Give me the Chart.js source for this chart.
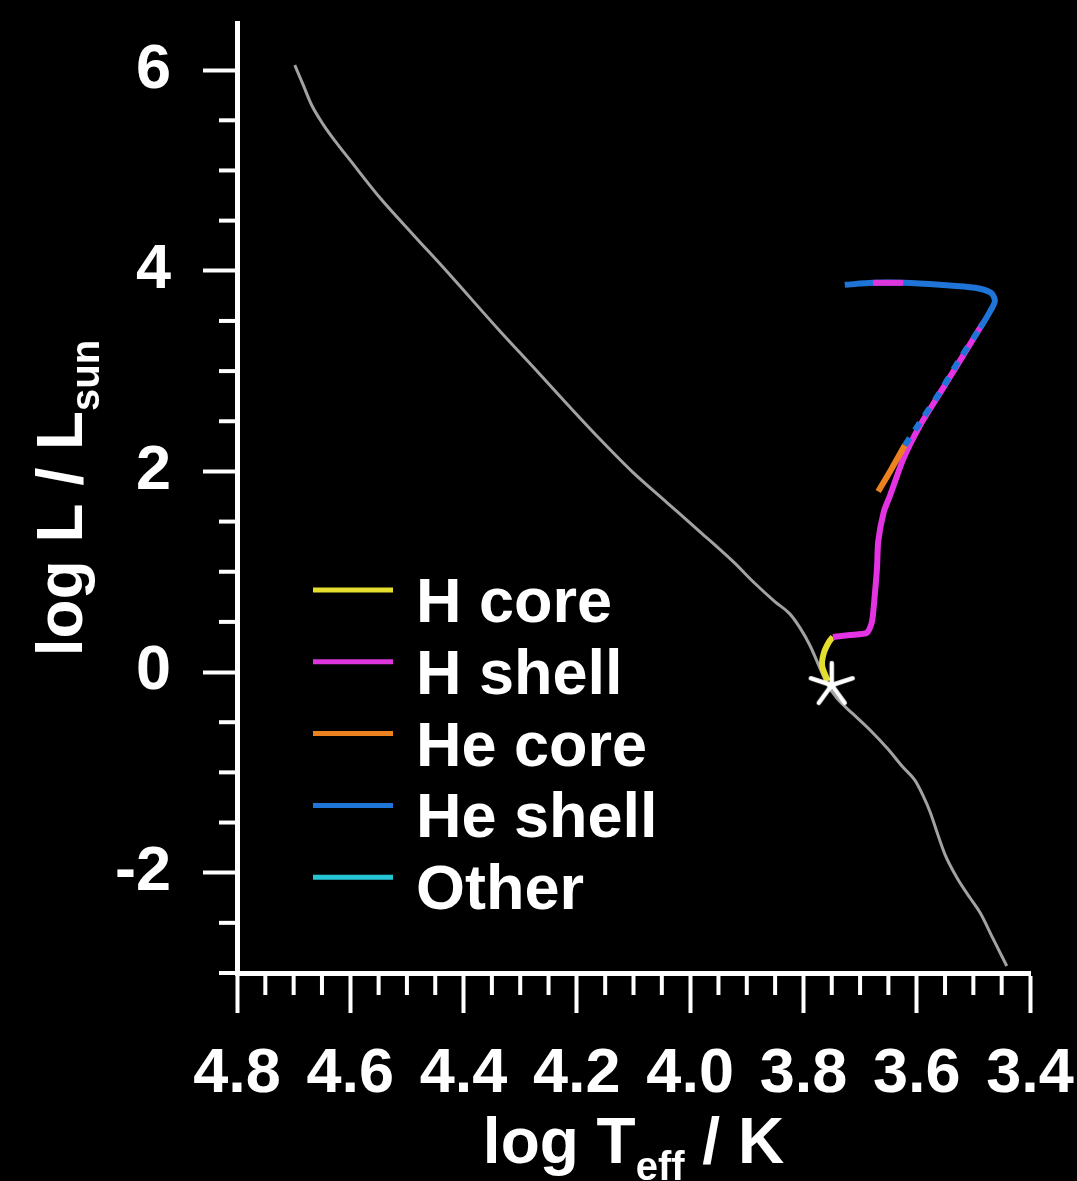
<!DOCTYPE html>
<html><head><meta charset="utf-8">
<script src="https://cdn.jsdelivr.net/npm/chart.js@4.4.0/dist/chart.umd.min.js"></script>
<style>html,body{margin:0;padding:0;background:#000;overflow:hidden}#wrap{width:1077px;height:1181px}</style>
</head><body><div id="wrap"><canvas id="c" width="1077" height="1181"></canvas></div>
<script>
const FONT = '"Liberation Sans", Arial, Helvetica, sans-serif';

// ---- axis ticks ----
const xTicks = [4.8, 4.6, 4.4, 4.2, 4.0, 3.8, 3.6, 3.4];
const yTicks = [-2, 0, 2, 4, 6];
const xRange = [3.4, 4.8];
const yRange = [-3, 6.47];
const xMinorStep = 0.05;
const yMinorStep = 0.5;

// ---- legend ----
const legendLabels = ['H core', 'H shell', 'He core', 'He shell', 'Other'];
const legendColors = ['#e4de2e', '#dc36dc', '#ec821f', '#1f74d8', '#27c6d6'];

// ---- grey track (main sequence line) ----
const trackX = [4.698,4.683,4.668,4.648,4.625,4.600,4.548,4.489,4.429,4.336,4.277,4.217,4.159,4.101,4.041,3.983,3.924,3.885,3.850,3.824,3.806,3.788,3.774,3.758,3.741,3.712,3.682,3.652,3.624,3.603,3.589,3.576,3.564,3.550,3.529,3.506,3.488,3.465,3.441];
const trackY = [6.05,5.85,5.65,5.46,5.28,5.10,4.73,4.36,3.99,3.40,3.04,2.67,2.32,1.99,1.69,1.40,1.10,0.88,0.70,0.58,0.44,0.26,0.08,-0.12,-0.26,-0.42,-0.58,-0.76,-0.95,-1.08,-1.23,-1.40,-1.60,-1.82,-2.05,-2.25,-2.40,-2.66,-2.93];

// ---- evolutionary track segments ----
const hCoreX = [3.757,3.767,3.764,3.755,3.748];
const hCoreY = [-0.09,0.06,0.19,0.30,0.35];

const hShellX = [3.748,3.718,3.688,3.679,3.674,3.670,3.668,3.658,3.647,3.624,3.594,3.559,3.523,3.483];
const hShellY = [0.35,0.37,0.39,0.50,0.77,1.05,1.30,1.60,1.76,2.12,2.46,2.78,3.11,3.48];

const hShell2X = [3.624,3.677];
const hShell2Y = [3.88,3.88];

const heCoreX = [3.668,3.644,3.621];
const heCoreY = [1.80,2.03,2.26];

const heShellX = [3.621,3.594,3.559,3.524,3.488,3.471,3.462,3.469,3.497,3.559,3.624,3.677,3.727];
const heShellY = [2.26,2.49,2.79,3.12,3.43,3.59,3.70,3.78,3.83,3.86,3.88,3.88,3.86];

const otherX = [];
const otherY = [];

const sunX = [3.750];
const sunY = [-0.13];

function pts(xs, ys) { return xs.map((x, i) => ({ x: x, y: ys[i] })); }

function makeStar() {
  const c = document.createElement('canvas');
  c.width = 52; c.height = 52;
  const g = c.getContext('2d');
  g.strokeStyle = '#ffffff'; g.lineWidth = 4.5; g.lineCap = 'round';
  for (let i = 0; i < 5; i++) {
    const a = -Math.PI / 2 + i * 2 * Math.PI / 5;
    g.beginPath(); g.moveTo(26, 26);
    g.lineTo(26 + 22 * Math.cos(a), 26 + 22 * Math.sin(a)); g.stroke();
  }
  return c;
}

const lineBase = { showLine: true, pointRadius: 0, pointHoverRadius: 0, fill: false, tension: 0.3 };

const decor = {
  id: 'decor',
  afterDraw(chart) {
    const ctx = chart.ctx;
    const xs = chart.scales.x, ys = chart.scales.y;
    const ca = chart.chartArea;
    ctx.save();
    ctx.strokeStyle = '#ffffff';
    ctx.lineWidth = 4;
    for (let v = xRange[0]; v <= xRange[1] + 1e-9; v += xMinorStep) {
      const r = Math.round(v * 100) / 100;
      if (xTicks.some(t => Math.abs(t - r) < 1e-6)) continue;
      const p = xs.getPixelForValue(r);
      ctx.beginPath(); ctx.moveTo(p, ca.bottom); ctx.lineTo(p, ca.bottom + 22); ctx.stroke();
    }
    for (let v = yRange[0]; v <= yRange[1] + 1e-9; v += yMinorStep) {
      if (yTicks.some(t => Math.abs(t - v) < 1e-6)) continue;
      const p = ys.getPixelForValue(v);
      ctx.beginPath(); ctx.moveTo(ca.left, p); ctx.lineTo(ca.left - 18, p); ctx.stroke();
    }
    ctx.lineWidth = 5;
    ctx.lineCap = 'butt';
    ctx.font = 'bold 63px ' + FONT;
    ctx.fillStyle = '#ffffff';
    ctx.textAlign = 'left';
    ctx.textBaseline = 'alphabetic';
    legendLabels.forEach((lab, i) => {
      const yl = 590 + i * 71.8;
      ctx.strokeStyle = legendColors[i];
      ctx.beginPath(); ctx.moveTo(313, yl); ctx.lineTo(393, yl); ctx.stroke();
      ctx.fillText(lab, 416, yl + 32);
    });
    const big = 'bold 64px ' + FONT, small = 'bold 40px ' + FONT;
    drawParts(ctx, [['log T', big, 0], ['eff', small, 17], [' / K', big, 0]], (ca.left + ca.right) / 2, 1163);
    ctx.save();
    ctx.translate(82, (ca.top + ca.bottom) / 2);
    ctx.rotate(-Math.PI / 2);
    drawParts(ctx, [['log L / L', big, 0], ['sun', small, 17]], 0, 0);
    ctx.restore();
    ctx.restore();
  }
};

function drawParts(ctx, parts, cx, by) {
  let w = 0;
  parts.forEach(p => { ctx.font = p[1]; w += ctx.measureText(p[0]).width; });
  let x = cx - w / 2;
  ctx.textAlign = 'left'; ctx.textBaseline = 'alphabetic'; ctx.fillStyle = '#ffffff';
  parts.forEach(p => { ctx.font = p[1]; ctx.fillText(p[0], x, by + p[2]); x += ctx.measureText(p[0]).width; });
}

function noPad(s) { s.paddingTop = 0; s.paddingBottom = 0; s.paddingLeft = 0; s.paddingRight = 0; }

new Chart(document.getElementById('c'), {
  type: 'scatter',
  data: {
    datasets: [
      { label: 'Sun', data: pts(sunX, sunY), pointStyle: makeStar(), pointRadius: 22, showLine: false, order: 0 },
      Object.assign({ label: 'H shell (post-AGB)', data: pts(hShell2X, hShell2Y), borderColor: legendColors[1], borderWidth: 6, order: 1 }, lineBase),
      Object.assign({ label: 'He shell', data: pts(heShellX, heShellY), borderColor: legendColors[3], borderWidth: 6, order: 2,
        segment: { borderDash: c => (c.p1.parsed.y < 3.45 ? [9, 9] : undefined) } }, lineBase),
      Object.assign({ label: 'He core', data: pts(heCoreX, heCoreY), borderColor: legendColors[2], borderWidth: 6, order: 3 }, lineBase),
      Object.assign({ label: 'H shell', data: pts(hShellX, hShellY), borderColor: '#e333e3', borderWidth: 6, order: 4 }, lineBase, { tension: 0.2 }),
      Object.assign({ label: 'H core', data: pts(hCoreX, hCoreY), borderColor: legendColors[0], borderWidth: 6, order: 5 }, lineBase),
      Object.assign({ label: 'Other', data: pts(otherX, otherY), borderColor: legendColors[4], borderWidth: 6, order: 6 }, lineBase),
      Object.assign({ label: 'Track', data: pts(trackX, trackY), borderColor: '#a2a2a2', borderWidth: 3, order: 7 }, lineBase, { cubicInterpolationMode: 'monotone' })
    ]
  },
  options: {
    responsive: false,
    animation: false,
    devicePixelRatio: 1,
    layout: { padding: { top: 17, right: 47, left: 0, bottom: 0 } },
    plugins: { legend: { display: false }, tooltip: { enabled: false } },
    scales: {
      x: {
        type: 'linear', reverse: true, min: xRange[0], max: xRange[1],
        afterBuildTicks: s => { s.ticks = xTicks.map(v => ({ value: v })); },
        afterFit: s => { s.height = 208; noPad(s); },
        border: { display: true, color: '#ffffff', width: 5 },
        grid: { display: true, drawOnChartArea: false, drawTicks: true, tickLength: 40, tickWidth: 4, tickColor: '#ffffff' },
        ticks: { color: '#ffffff', font: { family: FONT, size: 63, weight: 'bold' }, padding: 24, maxRotation: 0, autoSkip: false,
          callback: v => Number(v).toFixed(1) }
      },
      y: {
        type: 'linear', min: yRange[0], max: yRange[1],
        afterBuildTicks: s => { s.ticks = yTicks.map(v => ({ value: v })); },
        afterFit: s => { s.width = 237; noPad(s); },
        border: { display: true, color: '#ffffff', width: 5 },
        grid: { display: true, drawOnChartArea: false, drawTicks: true, tickLength: 34, tickWidth: 4, tickColor: '#ffffff' },
        ticks: { color: '#ffffff', font: { family: FONT, size: 63, weight: 'bold' }, padding: 32, autoSkip: false,
          callback: v => String(v) }
      }
    }
  },
  plugins: [decor]
});
</script></body></html>
